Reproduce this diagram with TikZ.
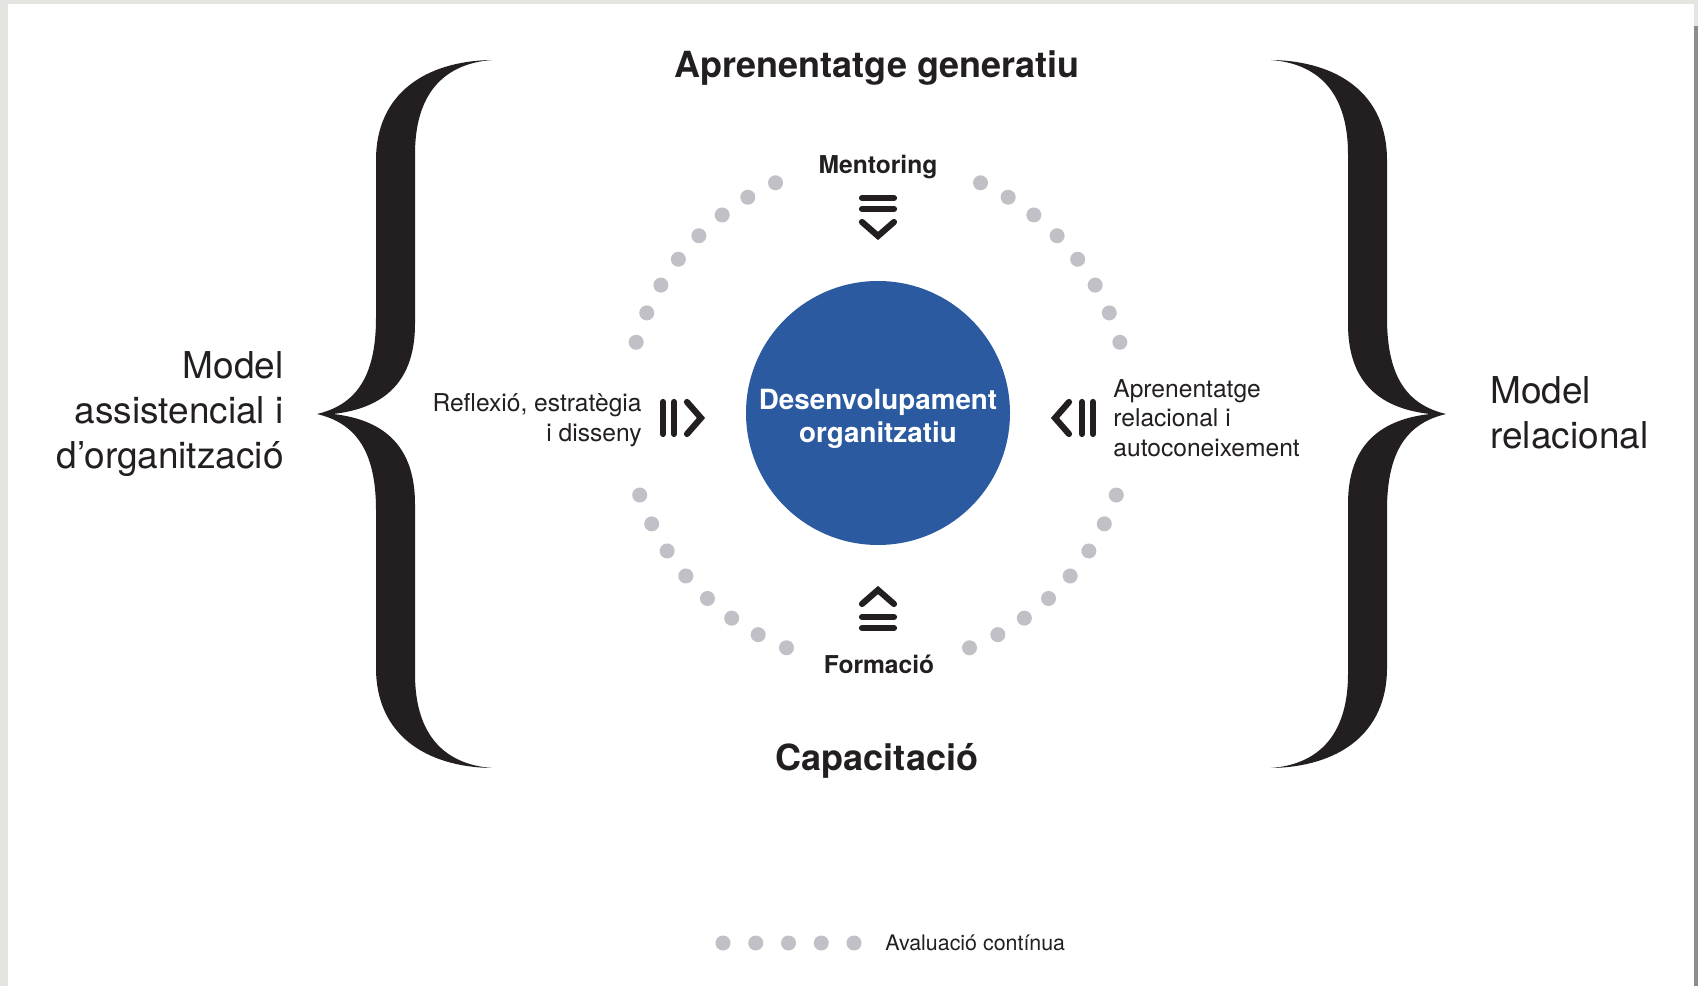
\documentclass[tikz,border=0pt]{standalone}
\usepackage{fontspec}
\setmainfont{TeX Gyre Heros}
\usetikzlibrary{calc}
\definecolor{ink}{RGB}{35,31,32}
\definecolor{ringdot}{RGB}{192,192,198}
\definecolor{devblue}{RGB}{43,90,160}
\definecolor{framegray}{RGB}{228,228,224}
\tikzset{
  iconline/.style={ink, line width=3.1pt, line cap=round},
  title/.style={font=\bfseries\fontsize{18}{21}\selectfont, text=ink, inner sep=0pt},
  sub/.style={font=\bfseries\fontsize{12.3}{15}\selectfont, text=ink, inner sep=0pt},
  side/.style={font=\fontsize{12.3}{14.8}\selectfont, text=ink, inner sep=0pt},
  model/.style={font=\fontsize{18.5}{22.5}\selectfont, text=ink, inner sep=0pt},
  dev/.style={circle, fill=devblue, minimum size=132pt, inner sep=0pt},
  devtext/.style={text=white, inner sep=0pt, align=center,
    font=\bfseries\fontsize{13.9}{16.4}\selectfont},
  brace/.pic={
    \fill[ink] (0,0) .. controls (38,9) and (59,36) .. (59,96) -- (59,254)
      .. controls (59,320) and (108,353) .. (175,354)
      .. controls (123,350) and (98,316) .. (98,260) -- (98,90)
      .. controls (98,35) and (70,6) .. (16,0)
      .. controls (70,-6) and (98,-35) .. (98,-90) -- (98,-260)
      .. controls (98,-316) and (123,-350) .. (175,-354)
      .. controls (108,-353) and (59,-320) .. (59,-254) -- (59,-96)
      .. controls (59,-36) and (38,-9) .. (0,0) -- cycle;
  },
  inward/.pic={
    \draw[iconline] (-215,-16) -- (-215,16);
    \draw[iconline] (-204,-16) -- (-204,16);
    \draw[iconline] (-191,16) -- (-177,0) -- (-191,-16);
  }
}
\begin{document}
\begin{tikzpicture}[x=0.5pt, y=0.5pt]
  \useasboundingbox (0,0) rectangle (1698,986);
  \fill[framegray] (0,0) rectangle (1698,986);
  \fill[white] (8,0) rectangle (1694,982);
  \fill[gray!90] (1694,0) rectangle (1698,960);

  \coordinate (ctr) at (878,573);

  \pic at (317,572) {brace};
  \pic[xscale=-1] at (1446,572) {brace};

  \foreach \k in {0,...,7}{
    \fill[ringdot] ($(ctr)+({114+7.1*\k}:252)$) circle (7.5);
    \fill[ringdot] ($(ctr)+({199+7.1*\k}:252)$) circle (7.5);
    \fill[ringdot] ($(ctr)+({66-7.1*\k}:252)$) circle (7.5);
    \fill[ringdot] ($(ctr)+({341-7.1*\k}:252)$) circle (7.5);
  }

  \node[dev] (dev) at (ctr) {};
  \node[devtext] (devlabel) at ($(ctr)+(0,-6)$) {Desenvolupament\\organitzatiu};

  \pic[rotate=-90] at (ctr) {inward};
  \pic[rotate=90] at (ctr) {inward};
  \pic at ($(ctr)+(0,-5)$) {inward};
  \pic[rotate=180] at ($(ctr)+(0,-5)$) {inward};

  \node[title] (gen) at (877,917.5) {Aprenentatge generatiu};
  \node[title] (cap) at (877,225.5) {Capacitació};
  \node[sub] (ment) at (878,819) {Mentoring};
  \node[sub] (form) at (879,322) {Formació};
  \node[side, anchor=east, align=right] (refl) at (642,566) {Reflexió, estratègia\\i disseny};
  \node[side, anchor=west, align=left] (rel) at (1113,568) {Aprenentatge\\relacional i\\autoconeixement};
  \node[model, anchor=east, align=right] (assist) at (284,571.5) {Model\\assistencial i\\d’organització};
  \node[model, anchor=west, align=left] (relmod) at (1490,573) {Model\\relacional};

  \foreach \i in {0,...,4}
    \fill[ringdot] (723+32.75*\i,43) circle (7.5);
  \node[anchor=west, inner sep=0pt, text=ink, font=\fontsize{10.7}{13}\selectfont] (aval) at (885,43) {Avaluació contínua};
\end{tikzpicture}
\end{document}
